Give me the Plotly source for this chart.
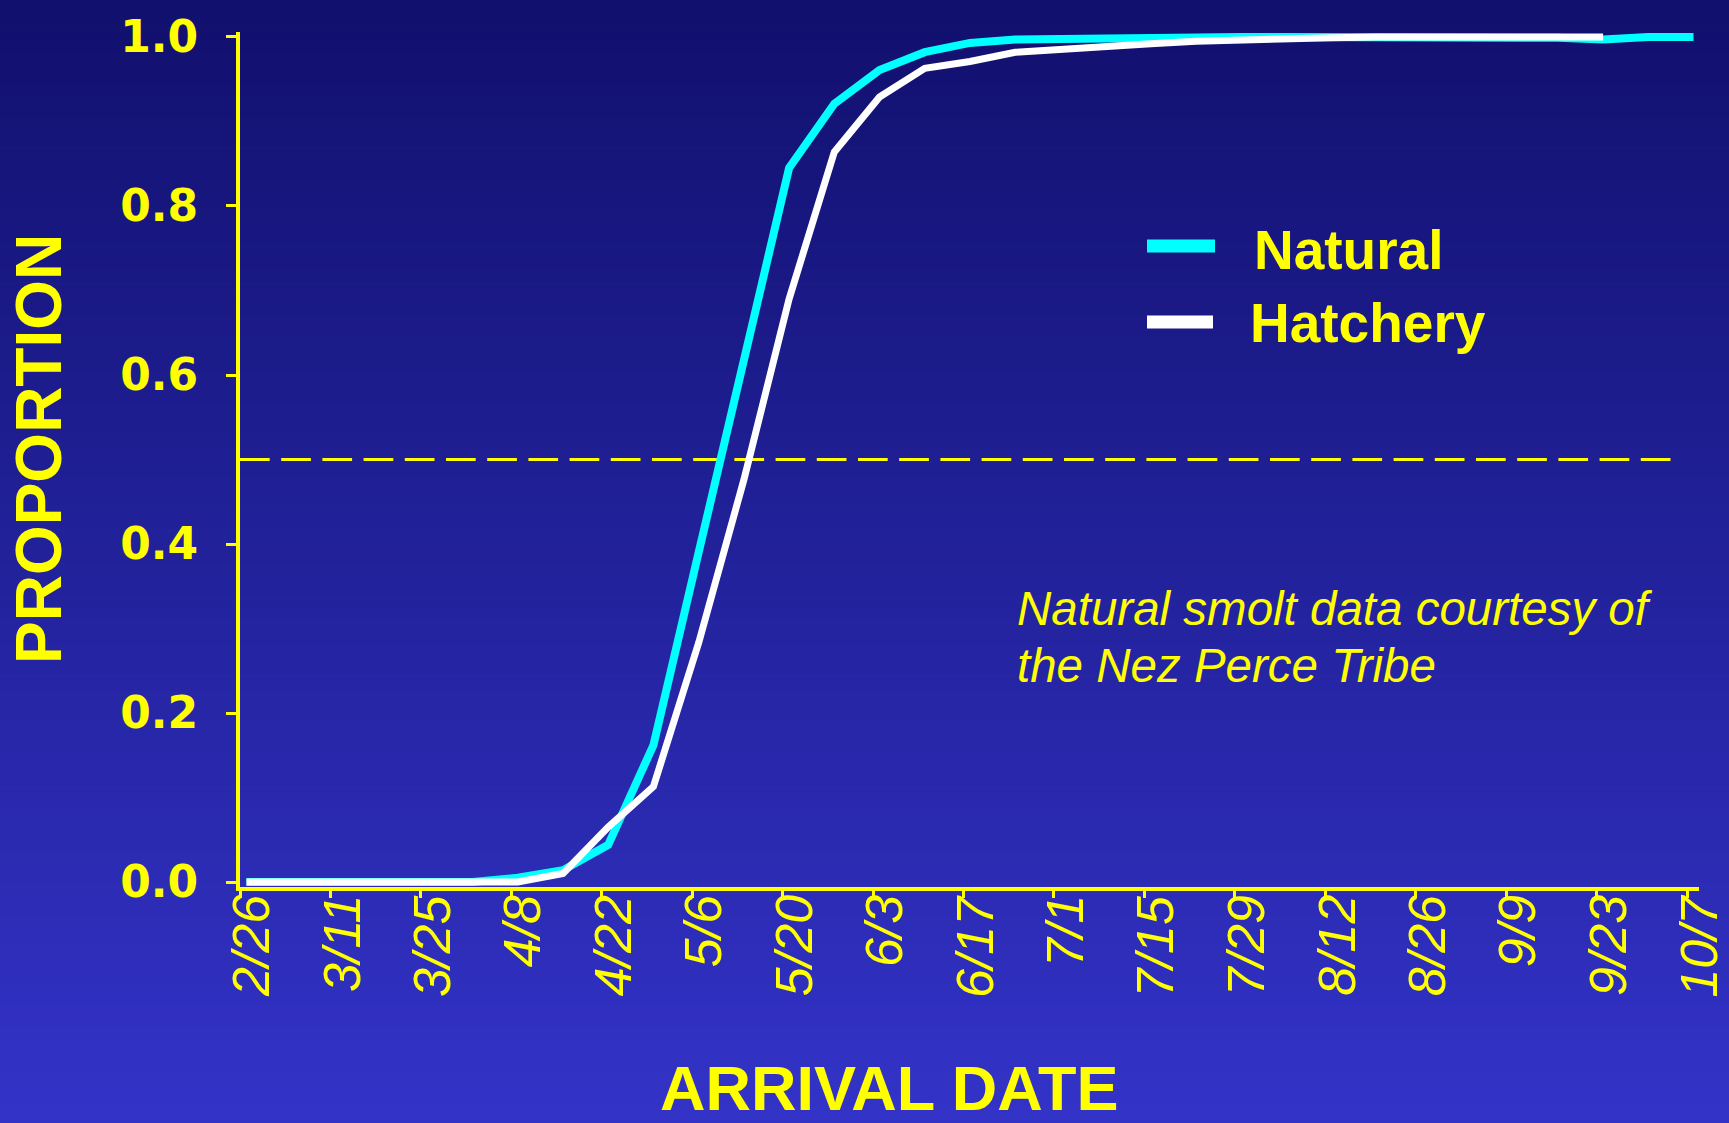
import pandas as pd
import plotly.graph_objects as go

# ---- data -------------------------------------------------------------
YEAR = 2004

# weekly sample dates (month/day)
sample_days = ["2/27", "3/5", "3/12", "3/19", "3/26", "4/2", "4/9", "4/16",
               "4/23", "4/30", "5/7", "5/14", "5/21", "5/28", "6/4", "6/11",
               "6/18", "6/25", "7/2", "7/9", "7/16", "7/23", "7/30", "8/6",
               "8/13", "8/20", "8/27", "9/3", "9/10", "9/17", "9/24", "10/1",
               "10/8"]

# cumulative proportion of arrivals
natural = [0.0, 0.0, 0.0, 0.0, 0.0, 0.0, 0.005, 0.014, 0.044, 0.162, 0.39,
           0.615, 0.845, 0.921, 0.961, 0.982, 0.993, 0.997, 0.998, 0.999,
           0.999, 0.999, 1.0, 1.0, 1.0, 0.999, 0.998, 0.998, 0.999, 0.999,
           0.997, 1.0, 1.0]
hatchery = [0.0, 0.0, 0.0, 0.0, 0.0, 0.0, 0.0, 0.010, 0.065, 0.113, 0.283,
            0.476, 0.69, 0.864, 0.929, 0.963, 0.971, 0.982, 0.986, 0.989,
            0.992, 0.995, 0.997, 0.999, 0.999, 1.0, 1.0, 1.0, 1.0, 1.0,
            1.0]

x_tick_labels = ["2/26", "3/11", "3/25", "4/8", "4/22", "5/6", "5/20", "6/3",
                 "6/17", "7/1", "7/15", "7/29", "8/12", "8/26", "9/9", "9/23",
                 "10/7"]
y_tick_values = [0.0, 0.2, 0.4, 0.6, 0.8, 1.0]
median_level = 0.5


def to_dates(days):
    return pd.to_datetime([f"{YEAR}/{d}" for d in days], format="%Y/%m/%d")


x_dates = to_dates(sample_days)
tick_dates = to_dates(x_tick_labels)

# ---- layout geometry --------------------------------------------------
W, H = 1729, 1123
L, R, T, B = 240, 30, 32, 236
plot_w, plot_h = W - L - R, H - T - B

YELLOW = "#FFFF00"
TOP_RGB = (17, 16, 110)
BOT_RGB = (51, 51, 200)


def px_x(px):
    return (px - L) / plot_w


def px_y(py):
    return 1 - (py - T) / plot_h


fig = go.Figure()

fig.add_trace(go.Scatter(
    x=x_dates, y=natural, mode="lines", name="Natural",
    line=dict(color="#00FFFF", width=8), showlegend=False,
))
fig.add_trace(go.Scatter(
    x=x_dates[:len(hatchery)], y=hatchery, mode="lines", name="Hatchery",
    line=dict(color="#FFFFFF", width=7), showlegend=False,
))

shapes = []
# vertical blue gradient behind the whole figure
n_bands = 200
y_lo, y_hi = px_y(H), px_y(0)
for i in range(n_bands):
    f = i / (n_bands - 1)
    rgb = [round(a + (b - a) * f) for a, b in zip(TOP_RGB, BOT_RGB)]
    y1 = y_hi - (y_hi - y_lo) * i / n_bands
    y0 = y_hi - (y_hi - y_lo) * (i + 1) / n_bands
    shapes.append(dict(
        type="rect", xref="paper", yref="paper", layer="below",
        x0=px_x(0), x1=px_x(W), y0=y0 - 0.002, y1=y1,
        fillcolor=f"rgb({rgb[0]},{rgb[1]},{rgb[2]})", line=dict(width=0),
    ))

# 50 % reference line
shapes.append(dict(
    type="line", xref="x", yref="y", layer="below",
    x0=tick_dates[0], x1=pd.Timestamp(f"{YEAR}-10-04 12:00"),
    y0=median_level, y1=median_level,
    line=dict(color=YELLOW, width=3, dash="29.7px,11.5px"),
))

# legend keys
shapes.append(dict(type="line", xref="paper", yref="paper", layer="above",
                   x0=px_x(1147), x1=px_x(1215), y0=px_y(246), y1=px_y(246),
                   line=dict(color="#00FFFF", width=13)))
shapes.append(dict(type="line", xref="paper", yref="paper", layer="above",
                   x0=px_x(1147), x1=px_x(1213), y0=px_y(322), y1=px_y(322),
                   line=dict(color="#FFFFFF", width=13)))

FAMILY = "Liberation Sans, Arial, sans-serif"
bold = dict(family=FAMILY, color=YELLOW, weight="bold")
italic = dict(family=FAMILY, color=YELLOW, style="italic")

annotations = [
    dict(text="Natural", x=px_x(1252), y=px_y(250), xanchor="left",
         yanchor="middle", font=dict(bold, size=55)),
    dict(text="Hatchery", x=px_x(1248), y=px_y(323), xanchor="left",
         yanchor="middle", font=dict(bold, size=55)),
    dict(text="Natural smolt data courtesy of", x=px_x(1015), y=px_y(608),
         xanchor="left", yanchor="middle", font=dict(italic, size=47.5)),
    dict(text="the Nez Perce Tribe", x=px_x(1015), y=px_y(665),
         xanchor="left", yanchor="middle", font=dict(italic, size=47.5)),
    dict(text="PROPORTION", x=px_x(39), y=px_y(449), textangle=-90,
         xanchor="center", yanchor="middle", font=dict(bold, size=64)),
    dict(text="ARRIVAL DATE", x=px_x(889), y=px_y(1088),
         xanchor="center", yanchor="middle", font=dict(bold, size=63)),
]
for a in annotations:
    a.update(xref="paper", yref="paper", showarrow=False)

# rotated date labels hung from the x-axis ticks
for d, lab in zip(tick_dates, x_tick_labels):
    annotations.append(dict(
        text=lab, x=d, xref="x", y=px_y(894), yref="paper",
        textangle=-90, xanchor="center", yanchor="top", xshift=11,
        showarrow=False, borderpad=0,
        font=dict(family=FAMILY, size=52, color=YELLOW, style="italic"),
    ))

fig.update_layout(
    width=W, height=H,
    margin=dict(l=L, r=R, t=T, b=B, autoexpand=False),
    paper_bgcolor="rgb(34,34,156)",
    plot_bgcolor="rgba(0,0,0,0)",
    shapes=shapes,
    annotations=annotations,
    showlegend=False,
)

fig.update_xaxes(
    type="date",
    range=["2004-02-26 00:00", "2004-10-08 20:24"],
    tickvals=tick_dates, showticklabels=False,
    ticks="outside", ticklen=7, tickwidth=3, tickcolor=YELLOW,
    showline=True, linecolor=YELLOW, linewidth=4,
    showgrid=False, zeroline=False, layer="below traces",
)
fig.update_yaxes(
    range=[-0.0059, 1.0059],
    tickvals=y_tick_values, ticktext=[f"{v:.1f}" for v in y_tick_values],
    ticks="outside", ticklen=10, tickwidth=3, tickcolor=YELLOW,
    ticklabelstandoff=19,
    tickfont=dict(family="DejaVu Sans, sans-serif", size=44, color=YELLOW,
                  weight="bold"),
    showline=True, linecolor=YELLOW, linewidth=4,
    showgrid=False, zeroline=False, layer="below traces",
)

fig.write_html("out.html")
